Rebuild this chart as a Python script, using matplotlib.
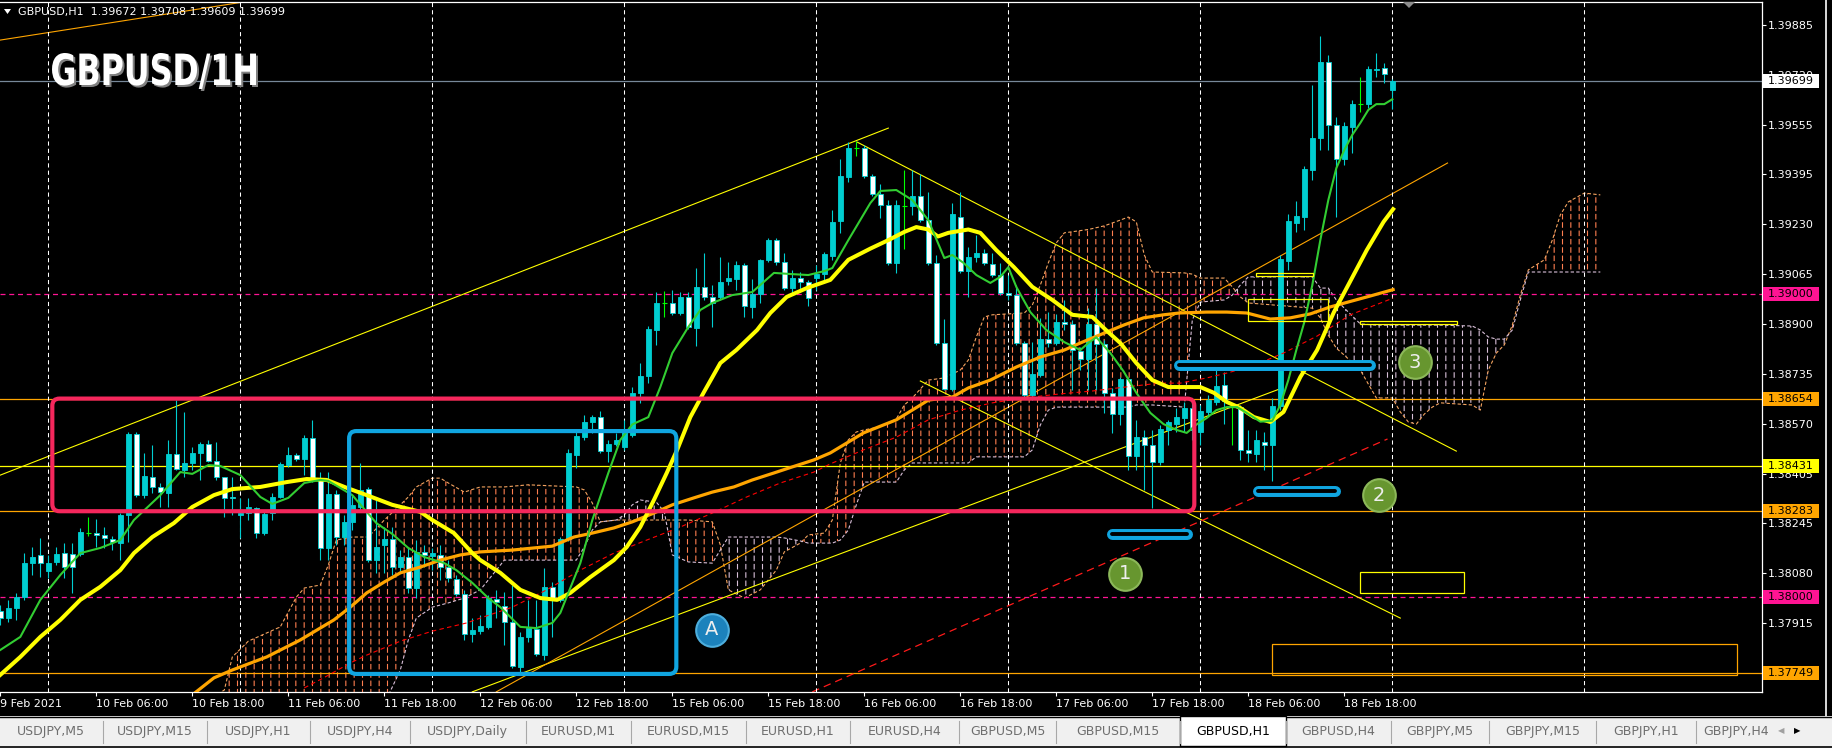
import numpy as np
import matplotlib
matplotlib.use('Agg')
import matplotlib.pyplot as plt
from matplotlib.patches import Rectangle, FancyBboxPatch, Polygon, PathPatch
from matplotlib.textpath import TextPath
from matplotlib.font_manager import FontProperties
from matplotlib.transforms import Affine2D

plt.rcParams['font.family'] = ['DejaVu Sans']
plt.rcParams['hatch.linewidth'] = 0.8

# GBPUSD H1 bars, bar 0 = 9 Feb 2021 18:00
opens = [1.37954, 1.37931, 1.37964, 1.38000, 1.38112, 1.38139, 1.38086, 1.38116, 1.38145, 1.38142,
         1.38142, 1.38211, 1.38211, 1.38205, 1.38192, 1.38178, 1.38271, 1.38537, 1.38336, 1.38396,
         1.38363, 1.38343, 1.38471, 1.38419, 1.38442, 1.38475, 1.38504, 1.38448, 1.38396, 1.38330,
         1.38271, 1.38277, 1.38294, 1.38211, 1.38277, 1.38330, 1.38435, 1.38468, 1.38455, 1.38524,
         1.38386, 1.38162, 1.38340, 1.38198, 1.38248, 1.38297, 1.38356, 1.38122, 1.38172, 1.38192,
         1.38099, 1.38132, 1.38030, 1.38149, 1.38136, 1.38139, 1.38099, 1.38060, 1.38010, 1.37879,
         1.37888, 1.37902, 1.37994, 1.37971, 1.37918, 1.37770, 1.37869, 1.37895, 1.37809, 1.38033,
         1.37991, 1.38192, 1.38468, 1.38527, 1.38576, 1.38593, 1.38481, 1.38504, 1.38495, 1.38534,
         1.38673, 1.38729, 1.38880, 1.38969, 1.38969, 1.38936, 1.38989, 1.38887, 1.39022, 1.38989,
         1.38989, 1.39041, 1.39048, 1.39094, 1.38956, 1.38999, 1.39111, 1.39176, 1.39104, 1.39018,
         1.39051, 1.39038, 1.39051, 1.39064, 1.39124, 1.39239, 1.39384, 1.39480, 1.39480, 1.39387,
         1.39328, 1.39292, 1.39101, 1.39288, 1.39288, 1.39321, 1.39242, 1.39101, 1.38837, 1.38686,
         1.39252, 1.39074, 1.39120, 1.39134, 1.39097, 1.39061, 1.39002, 1.38995, 1.38837, 1.38666,
         1.38732, 1.38850, 1.38837, 1.38906, 1.38900, 1.38811, 1.38785, 1.38900, 1.38834, 1.38673,
         1.38603, 1.38719, 1.38465, 1.38527, 1.38501, 1.38445, 1.38550, 1.38570, 1.38590, 1.38623,
         1.38544, 1.38610, 1.38643, 1.38699, 1.38626, 1.38626, 1.38485, 1.38471, 1.38511, 1.38501,
         1.38630, 1.39107, 1.39232, 1.39252, 1.39407, 1.39512, 1.39763, 1.39555, 1.39443, 1.39549,
         1.39624, 1.39624, 1.39736, 1.39743, 1.39672]
highs = [1.37974, 1.37991, 1.38014, 1.38145, 1.38165, 1.38195, 1.38139, 1.38165, 1.38178, 1.38178,
         1.38228, 1.38264, 1.38257, 1.38231, 1.38201, 1.38277, 1.38544, 1.38544, 1.38475, 1.38501,
         1.38376, 1.38518, 1.38649, 1.38610, 1.38495, 1.38511, 1.38518, 1.38511, 1.38396, 1.38396,
         1.38327, 1.38327, 1.38297, 1.38280, 1.38343, 1.38445, 1.38495, 1.38475, 1.38534, 1.38584,
         1.38412, 1.38412, 1.38353, 1.38271, 1.38336, 1.38442, 1.38363, 1.38320, 1.38231, 1.38231,
         1.38155, 1.38162, 1.38188, 1.38172, 1.38162, 1.38172, 1.38122, 1.38073, 1.38024, 1.37931,
         1.37941, 1.38007, 1.38024, 1.38017, 1.38040, 1.37885, 1.37991, 1.37991, 1.38096, 1.38050,
         1.38198, 1.38488, 1.38547, 1.38600, 1.38600, 1.38613, 1.38518, 1.38541, 1.38584, 1.38692,
         1.38771, 1.38893, 1.39005, 1.39008, 1.39012, 1.39005, 1.39005, 1.39084, 1.39134, 1.39028,
         1.39120, 1.39104, 1.39107, 1.39101, 1.39048, 1.39114, 1.39183, 1.39183, 1.39134, 1.39078,
         1.39071, 1.39045, 1.39094, 1.39137, 1.39275, 1.39443, 1.39499, 1.39503, 1.39489, 1.39394,
         1.39361, 1.39308, 1.39308, 1.39407, 1.39407, 1.39394, 1.39335, 1.39127, 1.38916, 1.39298,
         1.39335, 1.39153, 1.39193, 1.39147, 1.39134, 1.39101, 1.39061, 1.39028, 1.38844, 1.38840,
         1.38920, 1.38939, 1.38933, 1.38979, 1.38913, 1.38824, 1.38952, 1.39018, 1.38847, 1.38689,
         1.38725, 1.38725, 1.38584, 1.38550, 1.38550, 1.38567, 1.38584, 1.38623, 1.38643, 1.38649,
         1.38633, 1.38666, 1.38758, 1.38742, 1.38633, 1.38633, 1.38550, 1.38550, 1.38544, 1.38656,
         1.39127, 1.39262, 1.39305, 1.39420, 1.39687, 1.39848, 1.39786, 1.39582, 1.39565, 1.39638,
         1.39713, 1.39750, 1.39792, 1.39759, 1.39708]
lows = [1.37908, 1.37918, 1.37925, 1.37991, 1.38073, 1.38066, 1.38063, 1.38106, 1.38063, 1.38014,
        1.38136, 1.38201, 1.38165, 1.38162, 1.38155, 1.38122, 1.38182, 1.38330, 1.38327, 1.38343,
        1.38297, 1.38297, 1.38419, 1.38396, 1.38419, 1.38386, 1.38445, 1.38386, 1.38264, 1.38271,
        1.38195, 1.38254, 1.38195, 1.38205, 1.38254, 1.38327, 1.38429, 1.38448, 1.38402, 1.38379,
        1.38122, 1.38122, 1.38172, 1.38172, 1.38221, 1.38287, 1.38116, 1.38080, 1.38080, 1.38073,
        1.38083, 1.38014, 1.37997, 1.38099, 1.38089, 1.38056, 1.38050, 1.38004, 1.37859, 1.37852,
        1.37879, 1.37895, 1.37931, 1.37842, 1.37767, 1.37753, 1.37852, 1.37806, 1.37793, 1.37869,
        1.37984, 1.38185, 1.38425, 1.38518, 1.38541, 1.38475, 1.38445, 1.38498, 1.38485, 1.38527,
        1.38640, 1.38705, 1.38831, 1.38923, 1.38929, 1.38929, 1.38883, 1.38827, 1.38979, 1.38890,
        1.38979, 1.39028, 1.39012, 1.38923, 1.38920, 1.38969, 1.39104, 1.39094, 1.39012, 1.38995,
        1.39012, 1.38959, 1.39012, 1.39035, 1.39111, 1.39200, 1.39368, 1.39453, 1.39381, 1.39321,
        1.39249, 1.39094, 1.39068, 1.39147, 1.39259, 1.39236, 1.39094, 1.38831, 1.38682, 1.38679,
        1.39068, 1.38989, 1.39104, 1.39094, 1.39055, 1.38995, 1.38979, 1.38831, 1.38659, 1.38649,
        1.38725, 1.38824, 1.38831, 1.38880, 1.38682, 1.38748, 1.38682, 1.38682, 1.38607, 1.38541,
        1.38567, 1.38419, 1.38419, 1.38353, 1.38294, 1.38435, 1.38501, 1.38544, 1.38544, 1.38518,
        1.38501, 1.38600, 1.38633, 1.38569, 1.38501, 1.38452, 1.38445, 1.38445, 1.38419, 1.38383,
        1.38616, 1.39078, 1.39203, 1.39209, 1.39374, 1.39473, 1.39473, 1.39252, 1.39424, 1.39463,
        1.39598, 1.39611, 1.39713, 1.39694, 1.39609]
closes = [1.37931, 1.37964, 1.38000, 1.38112, 1.38132, 1.38112, 1.38112, 1.38142, 1.38099, 1.38099,
          1.38215, 1.38211, 1.38205, 1.38195, 1.38182, 1.38271, 1.38537, 1.38336, 1.38399, 1.38363,
          1.38346, 1.38471, 1.38422, 1.38442, 1.38475, 1.38504, 1.38448, 1.38396, 1.38327, 1.38327,
          1.38277, 1.38297, 1.38211, 1.38274, 1.38330, 1.38439, 1.38468, 1.38455, 1.38524, 1.38386,
          1.38162, 1.38340, 1.38198, 1.38248, 1.38304, 1.38353, 1.38122, 1.38165, 1.38192, 1.38099,
          1.38132, 1.38030, 1.38149, 1.38139, 1.38145, 1.38099, 1.38063, 1.38010, 1.37879, 1.37892,
          1.37905, 1.37997, 1.37984, 1.37918, 1.37773, 1.37869, 1.37898, 1.37813, 1.38033, 1.37991,
          1.38192, 1.38475, 1.38531, 1.38576, 1.38593, 1.38481, 1.38504, 1.38518, 1.38544, 1.38673,
          1.38729, 1.38883, 1.38969, 1.38969, 1.38936, 1.38989, 1.38890, 1.39022, 1.38989, 1.38969,
          1.39038, 1.39051, 1.39094, 1.38959, 1.38999, 1.39111, 1.39176, 1.39104, 1.39018, 1.39051,
          1.39038, 1.38985, 1.39064, 1.39130, 1.39236, 1.39387, 1.39480, 1.39480, 1.39387, 1.39328,
          1.39292, 1.39101, 1.39292, 1.39288, 1.39321, 1.39242, 1.39101, 1.38837, 1.38686, 1.39262,
          1.39074, 1.39120, 1.39134, 1.39101, 1.39061, 1.39002, 1.38995, 1.38837, 1.38666, 1.38735,
          1.38850, 1.38837, 1.38906, 1.38900, 1.38814, 1.38785, 1.38900, 1.38834, 1.38673, 1.38603,
          1.38719, 1.38465, 1.38527, 1.38501, 1.38445, 1.38554, 1.38576, 1.38593, 1.38623, 1.38550,
          1.38613, 1.38649, 1.38695, 1.38646, 1.38626, 1.38485, 1.38475, 1.38518, 1.38501, 1.38630,
          1.39114, 1.39239, 1.39256, 1.39410, 1.39512, 1.39763, 1.39555, 1.39443, 1.39552, 1.39624,
          1.39624, 1.39740, 1.39740, 1.39723, 1.39699]

time_labels = ['9 Feb 2021', '10 Feb 06:00', '10 Feb 18:00', '11 Feb 06:00', '11 Feb 18:00',
               '12 Feb 06:00', '12 Feb 18:00', '15 Feb 06:00', '15 Feb 18:00', '16 Feb 06:00',
               '16 Feb 18:00', '17 Feb 06:00', '17 Feb 18:00', '18 Feb 06:00', '18 Feb 18:00']
price_ticks = [1.39885, 1.39720, 1.39555, 1.39395, 1.39230, 1.39065, 1.38900,
               1.38735, 1.38570, 1.38405, 1.38245, 1.38080, 1.37915]

# moving averages (bar position, price)
ma_fast_x = [0, 2.5, 5, 7.5, 10, 12.5, 15, 16.7, 20, 22.5, 24, 26, 27.5, 30, 32.5, 34, 36, 38, 40, 41,
             44, 47, 49, 51, 53, 55.5, 57, 59, 61, 62.5, 65, 67, 69, 70, 71, 72.5, 74, 76, 77.5, 79,
             81, 82.5, 84, 86, 87.5, 89, 91.5, 94, 96.7, 99, 101, 103, 104, 106, 108.75, 110, 112, 114,
             116, 118, 119, 120.4, 122, 123.75, 125, 126, 127, 128.75, 130.75, 133, 135, 136, 137,
             138.75, 140.4, 142, 143.75, 145.4, 147, 148.3, 149.6, 150.8, 152, 153.3, 154.6, 155.8,
             157.5, 159, 160, 161, 162, 163, 164, 165, 166, 167, 168, 169, 170, 171, 172, 173, 174]
ma_fast = [1.37826, 1.37869, 1.37991, 1.38073, 1.38145, 1.38162, 1.38188, 1.38254, 1.38336, 1.38412,
           1.38406, 1.38435, 1.38432, 1.38402, 1.38330, 1.38307, 1.38327, 1.38376, 1.38386, 1.38383,
           1.38336, 1.38244, 1.38208, 1.38162, 1.38132, 1.38112, 1.38089, 1.38047, 1.37997, 1.37967,
           1.37902, 1.37898, 1.37915, 1.37948, 1.38014, 1.38112, 1.38254, 1.38409, 1.38518, 1.38569,
           1.38593, 1.38692, 1.38804, 1.38890, 1.38946, 1.38969, 1.38995, 1.39005, 1.39068, 1.39064,
           1.39061, 1.39074, 1.39084, 1.39176, 1.39298, 1.39338, 1.39341, 1.39308, 1.39242, 1.39117,
           1.39127, 1.39101, 1.39061, 1.39035, 1.39055, 1.39087, 1.39022, 1.38939, 1.38880, 1.38840,
           1.38814, 1.38837, 1.38856, 1.38804, 1.38744, 1.38673, 1.38607, 1.38570, 1.38551, 1.38541,
           1.38570, 1.38590, 1.38616, 1.38626, 1.38626, 1.38607, 1.38578, 1.38581, 1.38633, 1.38715,
           1.38814, 1.38906, 1.39028, 1.39176, 1.39308, 1.39413, 1.39473, 1.39523, 1.39562, 1.39605,
           1.39624, 1.39624, 1.39640]
ma_mid_x = [0, 2.5, 5, 7.5, 10, 12.5, 15, 16.7, 19, 21.7, 24, 26.7, 29, 32.5, 35.8, 38.3, 40.8, 43.3,
            45.8, 49, 52.5, 54, 56.7, 59, 60, 62.5, 65, 67.5, 69.6, 71.25, 73.75, 76.7, 78.3, 80, 81.7,
            83.3, 84.6, 86.25, 87.9, 90, 92, 94.6, 96.25, 98.3, 100.8, 103.75, 106, 108.75, 111, 113,
            114.5, 116, 117.2, 118.5, 121, 122.5, 124.5, 126.7, 129, 131.5, 134, 136.5, 138.2, 140, 142,
            144, 146, 148.3, 150, 151.7, 153.3, 155, 156.7, 158.75, 160.4, 162.5, 164.6, 166.7, 168.75,
            170.8, 172.9, 174.1]
ma_mid = [1.37744, 1.37803, 1.37869, 1.37925, 1.37991, 1.38034, 1.38089, 1.38145, 1.38198, 1.38244,
          1.38297, 1.38336, 1.38356, 1.38363, 1.38379, 1.38389, 1.38386, 1.38360, 1.38336, 1.38304,
          1.38281, 1.38254, 1.38211, 1.38145, 1.38122, 1.38080, 1.38024, 1.37997, 1.37991, 1.38014,
          1.38066, 1.38122, 1.38165, 1.38231, 1.38320, 1.38409, 1.38485, 1.38593, 1.38673, 1.38771,
          1.38814, 1.38880, 1.38936, 1.38989, 1.39018, 1.39045, 1.39111, 1.39148, 1.39176, 1.39203,
          1.39219, 1.39211, 1.39188, 1.39200, 1.39211, 1.39200, 1.39143, 1.39087, 1.39022, 1.38979,
          1.38930, 1.38923, 1.38880, 1.38837, 1.38771, 1.38715, 1.38692, 1.38692, 1.38692, 1.38673,
          1.38643, 1.38623, 1.38593, 1.38577, 1.38610, 1.38725, 1.38814, 1.38939, 1.39041, 1.39143,
          1.39236, 1.39278]
ma_slow_x = [24, 26.7, 29, 33.3, 37.5, 41.7, 43.75, 45.8, 48, 50, 52.5, 55, 57.5, 60, 64, 69, 71.7, 74,
             76.7, 79, 81.7, 84, 86.7, 89, 91.7, 94, 96.7, 99, 101.7, 103.75, 107.9, 112, 114.6, 116,
             119, 121, 123.75, 127, 130, 133, 135.25, 138, 140.4, 142.9, 145.4, 147.4, 150.8, 153.3,
             155.8, 158.75, 161.25, 163.75, 166.25, 168.75, 171.25, 174.1]
ma_slow = [1.37678, 1.37734, 1.37760, 1.37803, 1.37859, 1.37925, 1.37967, 1.38014, 1.38050, 1.38080,
           1.38099, 1.38122, 1.38139, 1.38149, 1.38155, 1.38168, 1.38198, 1.38211, 1.38228, 1.38248,
           1.38277, 1.38304, 1.38327, 1.38346, 1.38363, 1.38386, 1.38409, 1.38429, 1.38452, 1.38475,
           1.38541, 1.38584, 1.38626, 1.38649, 1.38659, 1.38689, 1.38715, 1.38758, 1.38791, 1.38814,
           1.38840, 1.38870, 1.38896, 1.38920, 1.38930, 1.38936, 1.38939, 1.38939, 1.38936, 1.38916,
           1.38920, 1.38933, 1.38956, 1.38974, 1.38992, 1.39013]
ma_long_x = [38, 40.4, 43.75, 45.8, 50, 54, 58.3, 60, 64, 68.3, 72.5, 76.7, 80.8, 85, 89, 93.3, 97.5,
             101.7, 103.75, 107.9, 112, 116, 120, 124, 128, 132.3, 136.5, 140.6, 144.9, 147.5, 150.8,
             153.3, 156.5, 160.4, 164.6, 168.75, 174.1]
ma_long = [1.37701, 1.37734, 1.37783, 1.37809, 1.37855, 1.37888, 1.37915, 1.37931, 1.37967, 1.38024,
           1.38089, 1.38145, 1.38188, 1.38231, 1.38277, 1.38330, 1.38376, 1.38412, 1.38439, 1.38485,
           1.38527, 1.38584, 1.38616, 1.38640, 1.38656, 1.38669, 1.38679, 1.38692, 1.38705, 1.38705,
           1.38722, 1.38738, 1.38761, 1.38804, 1.38860, 1.38930, 1.38985]

# ichimoku cloud edges (span A / span B), shifted 26 bars ahead
cloud_x = [26, 28, 29, 31, 35, 37, 38, 40, 41, 42,
           44, 46, 48, 50, 51, 52, 54, 55, 56, 58,
           60, 62, 63, 66, 72, 73, 74, 75, 77, 78,
           79, 80, 82, 83, 84, 86, 89, 90, 91, 93,
           95, 97, 98, 100, 101, 103, 104, 105, 106, 107,
           108, 110, 112, 113, 114, 116, 118, 120, 121, 122,
           123, 124, 128, 129, 130, 131, 132, 133, 136, 138,
           140, 141, 142, 143, 144, 148, 149, 150, 153, 154,
           155, 156, 164, 165, 166, 167, 168, 170, 172, 174,
           175, 176, 177, 178, 179, 180, 184, 185, 186, 187,
           188, 189, 190, 191, 193, 194, 195, 196, 198, 200]
span_a = [1.37661, 1.37694, 1.37803, 1.37855, 1.37902, 1.38000, 1.38030, 1.38040, 1.38106, 1.38188,
          1.38198, 1.38198, 1.38254, 1.38304, 1.38330, 1.38363, 1.38392, 1.38392, 1.38376, 1.38346,
          1.38363, 1.38363, 1.38363, 1.38370, 1.38363, 1.38353, 1.38310, 1.38248, 1.38254, 1.38254,
          1.38254, 1.38254, 1.38254, 1.38254, 1.38254, 1.38254, 1.38248, 1.38172, 1.38024, 1.37997,
          1.38024, 1.38089, 1.38149, 1.38178, 1.38205, 1.38211, 1.38254, 1.38442, 1.38518, 1.38544,
          1.38551, 1.38561, 1.38587, 1.38633, 1.38656, 1.38715, 1.38722, 1.38748, 1.38781, 1.38857,
          1.38923, 1.38930, 1.38936, 1.38962, 1.39028, 1.39101, 1.39167, 1.39200, 1.39211, 1.39223,
          1.39242, 1.39252, 1.39236, 1.39127, 1.39071, 1.39068, 1.39064, 1.39051, 1.39051, 1.39022,
          1.38989, 1.38969, 1.38952, 1.38920, 1.38863, 1.38820, 1.38797, 1.38748, 1.38656, 1.38656,
          1.38610, 1.38577, 1.38570, 1.38603, 1.38626, 1.38640, 1.38633, 1.38616, 1.38748, 1.38804,
          1.38831, 1.38896, 1.38995, 1.39078, 1.39111, 1.39176, 1.39259, 1.39302, 1.39331, 1.39325]
span_b = [1.37563, 1.37569, 1.37576, 1.37582, 1.37589, 1.37595, 1.37595, 1.37602, 1.37608, 1.37615,
          1.37622, 1.37635, 1.37648, 1.37760, 1.37859, 1.37931, 1.37967, 1.37974, 1.37981, 1.37997,
          1.38024, 1.38089, 1.38122, 1.38122, 1.38122, 1.38165, 1.38221, 1.38248, 1.38254, 1.38271,
          1.38304, 1.38320, 1.38313, 1.38281, 1.38139, 1.38116, 1.38112, 1.38155, 1.38198, 1.38198,
          1.38198, 1.38198, 1.38195, 1.38185, 1.38178, 1.38178, 1.38178, 1.38188, 1.38221, 1.38304,
          1.38379, 1.38379, 1.38379, 1.38419, 1.38442, 1.38442, 1.38442, 1.38442, 1.38442, 1.38462,
          1.38462, 1.38462, 1.38462, 1.38485, 1.38567, 1.38616, 1.38626, 1.38626, 1.38626, 1.38626,
          1.38626, 1.38626, 1.38633, 1.38633, 1.38633, 1.38626, 1.38913, 1.38972, 1.38979, 1.38995,
          1.39028, 1.39055, 1.39055, 1.39018, 1.39018, 1.38979, 1.38952, 1.38900, 1.38896, 1.38896,
          1.38896, 1.38896, 1.38896, 1.38896, 1.38896, 1.38896, 1.38893, 1.38880, 1.38857, 1.38850,
          1.38850, 1.38880, 1.38979, 1.39071, 1.39071, 1.39071, 1.39071, 1.39071, 1.39071, 1.39071]

# horizontal levels and the price tags on the scale
levels = [1.39000, 1.38654, 1.38431, 1.38283, 1.38000, 1.37749]
level_colors = ['#FF1493', '#FFA500', '#FFFF00', '#FFA500', '#FF1493', '#FFA500']
bid = 1.39699

# drawn objects (bar, price)
yellow_lines = [((0, 1.38402), (111, 1.39545)), ((59, 1.37688), (160.25, 1.38689)),
                ((107.1, 1.39499), (182, 1.38481)), ((115, 1.38712), (175, 1.37931))]
orange_lines = [((0, 1.39835), (32, 1.39967)), ((62, 1.37688), (180.9, 1.39430))]
red_trend = ((101.5, 1.37688), (173.4, 1.38521))
zone_red = (6.5, 149.25, 1.38283, 1.38654)
zone_blue = (43.6, 84.5, 1.37747, 1.38547)
capsules = [(138.2, 149.0, 1.38208), (156.5, 167.5, 1.38351), (146.6, 171.9, 1.38765)]
yellow_boxes = [(157.0, 164.1, 1.39058, 1.39068), (156.0, 166.0, 1.38910, 1.38981),
                (170.0, 182.1, 1.38900, 1.38910), (170.0, 183.0, 1.38014, 1.38083)]
orange_box = (159.0, 217.1, 1.37745, 1.37845)
badges = [('A', 88.9, 1.37892), ('1', 140.6, 1.38077), ('2', 172.3, 1.38335), ('3', 176.8, 1.38773)]

tabs = ['USDJPY,M5', 'USDJPY,M15', 'USDJPY,H1', 'USDJPY,H4', 'USDJPY,Daily', 'EURUSD,M1',
        'EURUSD,M15', 'EURUSD,H1', 'EURUSD,H4', 'GBPUSD,M5', 'GBPUSD,M15', 'GBPUSD,H1',
        'GBPUSD,H4', 'GBPJPY,M5', 'GBPJPY,M15', 'GBPJPY,H1', 'GBPJPY,H4']
tab_edges = [0, 102.7, 207, 310, 409.6, 526, 631, 746, 850, 959.5, 1056, 1180, 1286,
             1391, 1489, 1596, 1696.4, 1776]

CYAN = '#00CED1'
W, H = 1833, 748
fig = plt.figure(figsize=(W / 100, H / 100), dpi=100, facecolor='black')
ax = fig.add_axes([0, (H - 692) / H, 1762 / W, 690 / H])
ax.set_facecolor('black')
ax.set_xlim(-0.04, 220.21)
ax.set_ylim(1.376875, 1.399604)

# cloud: vertical hatch, then thin black horizontal hatch to break it into dashes
cx, ca, cb = np.array(cloud_x), np.array(span_a), np.array(span_b)
ax.fill_between(cx, ca, cb, where=ca >= cb, interpolate=True, facecolor='none',
                edgecolor='#FF7F50', hatch='||', linewidth=0, zorder=1)
ax.fill_between(cx, ca, cb, where=ca < cb, interpolate=True, facecolor='none',
                edgecolor='#D8BFD8', hatch='||', linewidth=0, zorder=1)
breaker = ax.fill_between(cx, ca, cb, facecolor='none', edgecolor='black',
                          hatch='--', linewidth=0, zorder=1.05)
if hasattr(breaker, 'set_hatch_linewidth'):
    breaker.set_hatch_linewidth(2.0)
ax.plot(cx, ca, color='#F4A460', lw=0.8, ls=(0, (3, 2)), zorder=1.1)
ax.plot(cx, cb, color='#D8BFD8', lw=0.8, ls=(0, (3, 2)), zorder=1.1)

# levels
ax.axhline(bid, color='#778899', lw=0.9, zorder=1.2)
for lv, col in zip(levels, level_colors):
    ls = (0, (4, 3)) if col == '#FF1493' else '-'
    ax.axhline(lv, color=col, lw=0.9, ls=ls, zorder=1.2)

# trend lines
for (x0, p0), (x1, p1) in yellow_lines:
    ax.plot([x0, x1], [p0, p1], color='#FFFF00', lw=0.8, zorder=1.3)
for (x0, p0), (x1, p1) in orange_lines:
    ax.plot([x0, x1], [p0, p1], color='#FFA500', lw=0.8, zorder=1.3)
ax.plot([red_trend[0][0], red_trend[1][0]], [red_trend[0][1], red_trend[1][1]],
        color='#FF1A1A', lw=0.9, ls=(0, (6, 4)), zorder=1.3)

# candles
o, hi, lo, c = map(np.array, (opens, highs, lows, closes))
idx = np.arange(len(c))
up, dn, dj = c > o, c < o, c == o
ax.vlines(idx[~dj], lo[~dj], hi[~dj], color=CYAN, lw=0.8, zorder=3)
ax.vlines(idx[dj], lo[dj], hi[dj], color='#00FF00', lw=0.8, zorder=3)
ax.hlines(c[dj], idx[dj] - 0.3, idx[dj] + 0.3, color='#00FF00', lw=0.8, zorder=3)
ax.bar(idx[up], c[up] - o[up], bottom=o[up], width=0.58, color=CYAN, edgecolor=CYAN, lw=0.6, zorder=3.1)
ax.bar(idx[dn], o[dn] - c[dn], bottom=c[dn], width=0.58, color='white', edgecolor=CYAN, lw=0.6, zorder=3.1)

# moving averages
ax.plot(ma_long_x, ma_long, color='#FF0000', lw=0.8, ls=(0, (4, 3)), zorder=3.5)
ax.plot(ma_slow_x, ma_slow, color='#FFA500', lw=2.3, zorder=3.6)
ax.plot(ma_mid_x, ma_mid, color='#FFFF00', lw=2.9, zorder=3.7)
ax.plot(ma_fast_x, ma_fast, color='#32CD32', lw=1.5, zorder=3.8)

# boxes
asp = 8 / 30355
for (x0, x1, p0, p1), col in ((zone_red, '#F5275C'), (zone_blue, '#10A5E0')):
    ax.add_patch(FancyBboxPatch((x0, p0), x1 - x0, p1 - p0, boxstyle='round,pad=0,rounding_size=0.9',
                                mutation_aspect=asp, fc='none', ec=col, lw=3.0, zorder=5))
for x0, x1, p0, p1 in yellow_boxes:
    ax.add_patch(Rectangle((x0, p0), x1 - x0, p1 - p0, fc='none', ec='#FFFF00', lw=0.9, zorder=4))
ax.add_patch(Rectangle((orange_box[0], orange_box[2]), orange_box[1] - orange_box[0],
                       orange_box[3] - orange_box[2], fc='none', ec='#FFA500', lw=0.9, zorder=4))
for x0, x1, p in capsules:
    ax.plot([x0 + 0.7, x1 - 0.7], [p, p], color='#10A5E0', lw=7.9, solid_capstyle='round', zorder=5)
    ax.plot([x0 + 0.7, x1 - 0.7], [p, p], color='black', lw=2.8, solid_capstyle='round', zorder=5.1)
for lab, bx, bp in badges:
    fc, ec = ('#1C82BC', '#4DAEDD') if lab == 'A' else ('#67962F', '#8CB859')
    ax.plot(bx, bp, 'o', ms=23.5, mfc=fc, mec=ec, mew=1.5, zorder=6)
    ax.text(bx, bp, lab, color='#EEEEEE', fontsize=14, ha='center', va='center', zorder=7)

# axes / scales
for side in ('top', 'right', 'bottom'):
    ax.spines[side].set_color('white')
    ax.spines[side].set_linewidth(0.9)
ax.spines['left'].set_visible(False)
ax.yaxis.tick_right()
ax.set_yticks(price_ticks)
ax.set_yticklabels([f'{v:.5f}' for v in price_ticks])
ax.tick_params(axis='y', colors='white', labelsize=8, length=2.8, width=0.8, pad=1.5)
ax.set_xticks(np.arange(0, 12 * len(time_labels), 12))
ax.set_xticklabels(time_labels)
ax.tick_params(axis='x', colors='white', labelsize=8, length=2.8, width=0.8, pad=2)
for t in ax.get_xticklabels():
    t.set_ha('left')
ax.set_xticks(np.arange(6, 220, 24), minor=True)
ax.tick_params(axis='x', which='minor', length=0)
ax.grid(True, which='minor', axis='x', color='white', lw=0.75, ls=(0, (4, 3)))

# price tags on the scale
ytr = ax.get_yaxis_transform()
tag_h = 14 * 3.294e-5
for lv, col in [(bid, 'white')] + list(zip(levels, level_colors)):
    ax.add_patch(Rectangle((1.0005, lv - tag_h / 2), 56 / 1762, tag_h, transform=ytr,
                           fc=col, ec='none', clip_on=False, zorder=8))
    ax.text(1.0035, lv, f'{lv:.5f}', transform=ytr, color='black', fontsize=8,
            va='center', ha='left', clip_on=False, zorder=9)

# overlay in pixel units: header, title, window frame, tab bar
ov = fig.add_axes([0, 0, 1, 1], zorder=10)
ov.set_xlim(0, W)
ov.set_ylim(H, 0)
ov.axis('off')
ov.patch.set_visible(False)

ov.add_patch(Polygon([(4, 9), (11, 9), (7.5, 14)], closed=True, fc='white', ec='none'))
ov.text(18, 12, 'GBPUSD,H1  1.39672 1.39708 1.39609 1.39699', color='white', fontsize=8, va='center')
ov.add_patch(Polygon([(1403, 2), (1415, 2), (1409, 8)], closed=True, fc='#8C8C8C', ec='none'))

fp = FontProperties(family=['Liberation Sans Narrow', 'DejaVu Sans'], weight='bold')
tp = TextPath((0, 0), 'GBPUSD/1H', size=40, prop=fp)
ext = tp.get_extents()
for dx, col in ((2, '#808080'), (0, 'white')):
    tr = Affine2D().translate(-ext.x0, -ext.y1).scale(204 / ext.width, -36 / ext.height).translate(52 + dx, 53 + dx)
    ov.add_patch(PathPatch(tr.transform_path(tp), fc=col, ec='none'))

ov.plot([1826, 1826], [0, 716], color='white', lw=1.2)

ov.add_patch(Rectangle((0, 716), W, 32, fc='#F0F0F0', ec='none'))
ov.plot([0, W], [716.5, 716.5], color='black', lw=1)
ov.plot([0, W], [747, 747], color='black', lw=1.2)
for i, name in enumerate(tabs):
    x0, x1 = tab_edges[i], tab_edges[i + 1]
    if name == 'GBPUSD,H1':
        ov.add_patch(Rectangle((x0, 716), x1 - x0, 30, fc='white', ec='black', lw=1, zorder=2))
        ov.text((x0 + x1) / 2, 732, name, color='black', fontsize=9, ha='center', va='center', zorder=3)
    else:
        ov.text((x0 + x1) / 2, 732, name, color='#6E6E6E', fontsize=9, ha='center', va='center')
    if 0 < i:
        ov.plot([x0, x0], [721, 743], color='#A8A8A8', lw=0.8)
ov.text(1781, 731, '\u25C0', color='#A0A0A0', fontsize=6, ha='center', va='center')
ov.text(1797, 731, '\u25B6', color='black', fontsize=6, ha='center', va='center')

fig.savefig('out.png', dpi=100, facecolor='black')
